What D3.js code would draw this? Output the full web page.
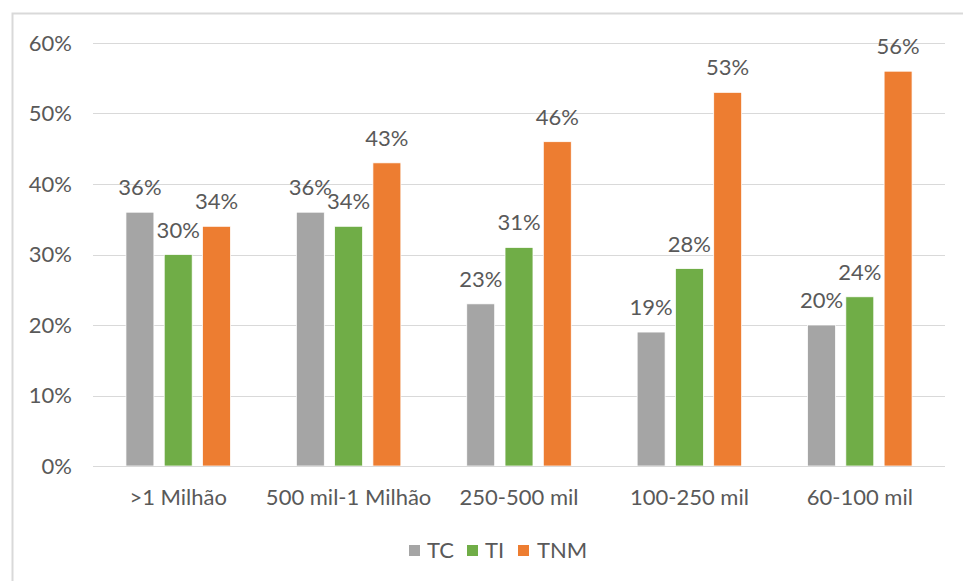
<!DOCTYPE html>
<html>
<head>
<meta charset="utf-8">
<script src="https://cdn.jsdelivr.net/npm/d3@7"></script>
<style>
  html, body { margin: 0; padding: 0; background: #fff; }
  svg { display: block; font-family: Lato, "Open Sans", sans-serif; }
</style>
</head>
<body>
<svg id="chart" width="963" height="581"></svg>
<script>
// Population size classes and the share for each indicator
const categories = [">1 Milhão", "500 mil-1 Milhão", "250-500 mil", "100-250 mil", "60-100 mil"];
const seriesNames = ["TC", "TI", "TNM"];
const tcValues = [36, 36, 23, 19, 20];
const tiValues = [30, 34, 31, 28, 24];
const tnmValues = [34, 43, 46, 53, 56];
const yTicks = [0, 10, 20, 30, 40, 50, 60];
const colors = ["#A5A5A5", "#70AD47", "#ED7D31"];

const seriesValues = [tcValues, tiValues, tnmValues];
const textColor = "#595959";
const fontSize = "22px";

const svg = d3.select("#chart");
const W = 963, H = 581;
const plot = { left: 93, right: 945, top: 43, bottom: 466 };

// Chart frame (left and top edges visible)
svg.append("rect")
  .attr("x", 12.5).attr("y", 13.5)
  .attr("width", W + 20).attr("height", H + 20)
  .attr("fill", "none").attr("stroke", "#D9D9D9").attr("stroke-width", 2);

const x0 = d3.scaleBand().domain(categories).range([plot.left, plot.right]).paddingInner(0).paddingOuter(0);
const groupWidth = 104.5;
const x1 = d3.scaleBand().domain(seriesNames).range([0, groupWidth]).paddingInner(0.27).paddingOuter(0);
const y = d3.scaleLinear().domain([0, 60]).range([plot.bottom, plot.top]);

// Horizontal gridlines
svg.append("g").selectAll("line").data(yTicks.filter(t => t > 0)).join("line")
  .attr("x1", plot.left).attr("x2", plot.right)
  .attr("y1", d => Math.round(y(d)) + 0.5).attr("y2", d => Math.round(y(d)) + 0.5)
  .attr("stroke", "#D9D9D9").attr("stroke-width", 1);

// Y axis labels
const yAxis = d3.axisLeft(y).tickValues(yTicks).tickFormat(d => d + "%").tickSize(0).tickPadding(0);
const yg = svg.append("g").attr("transform", `translate(72,0)`).call(yAxis);
yg.select(".domain").remove();
yg.selectAll("text").attr("fill", textColor).style("font-size", fontSize).style("font-family", "Lato, 'Open Sans', sans-serif");

// Bars with value labels
const groups = svg.append("g").selectAll("g").data(categories).join("g")
  .attr("transform", d => `translate(${x0(d) + (x0.bandwidth() - groupWidth) / 2},0)`);

groups.each(function(cat, ci) {
  const g = d3.select(this);
  seriesNames.forEach((s, si) => {
    const v = seriesValues[si][ci];
    g.append("rect")
      .attr("x", x1(s)).attr("y", y(v))
      .attr("width", x1.bandwidth()).attr("height", y(0) - y(v))
      .attr("fill", colors[si]).attr("stroke", "#fff").attr("stroke-width", 0.75);
    g.append("text")
      .attr("x", x1(s) + x1.bandwidth() / 2).attr("y", y(v) - 17)
      .attr("text-anchor", "middle").attr("fill", textColor)
      .style("font-size", fontSize)
      .text(v + "%");
  });
});

// X axis baseline
svg.append("line")
  .attr("x1", plot.left).attr("x2", plot.right)
  .attr("y1", plot.bottom + 0.5).attr("y2", plot.bottom + 0.5)
  .attr("stroke", "#D9D9D9").attr("stroke-width", 1);

// Category labels
const xAxis = d3.axisBottom(x0).tickSize(0).tickPadding(0);
const xg = svg.append("g").attr("transform", `translate(0,${plot.bottom + 23})`).call(xAxis);
xg.select(".domain").remove();
xg.selectAll("text").attr("fill", textColor).attr("dy", "0.72em")
  .style("font-size", fontSize).style("font-family", "Lato, 'Open Sans', sans-serif");

// Legend
const legendItems = [
  { name: "TC", sx: 409, tx: 427 },
  { name: "TI", sx: 467, tx: 485 },
  { name: "TNM", sx: 518, tx: 537 }
];
const lg = svg.append("g");
legendItems.forEach((it, i) => {
  lg.append("rect").attr("x", it.sx).attr("y", 545).attr("width", 11).attr("height", 11).attr("fill", colors[i]);
  lg.append("text").attr("x", it.tx).attr("y", 550.5).attr("dy", "0.36em")
    .attr("fill", textColor).style("font-size", fontSize).text(it.name);
});
</script>
</body>
</html>
